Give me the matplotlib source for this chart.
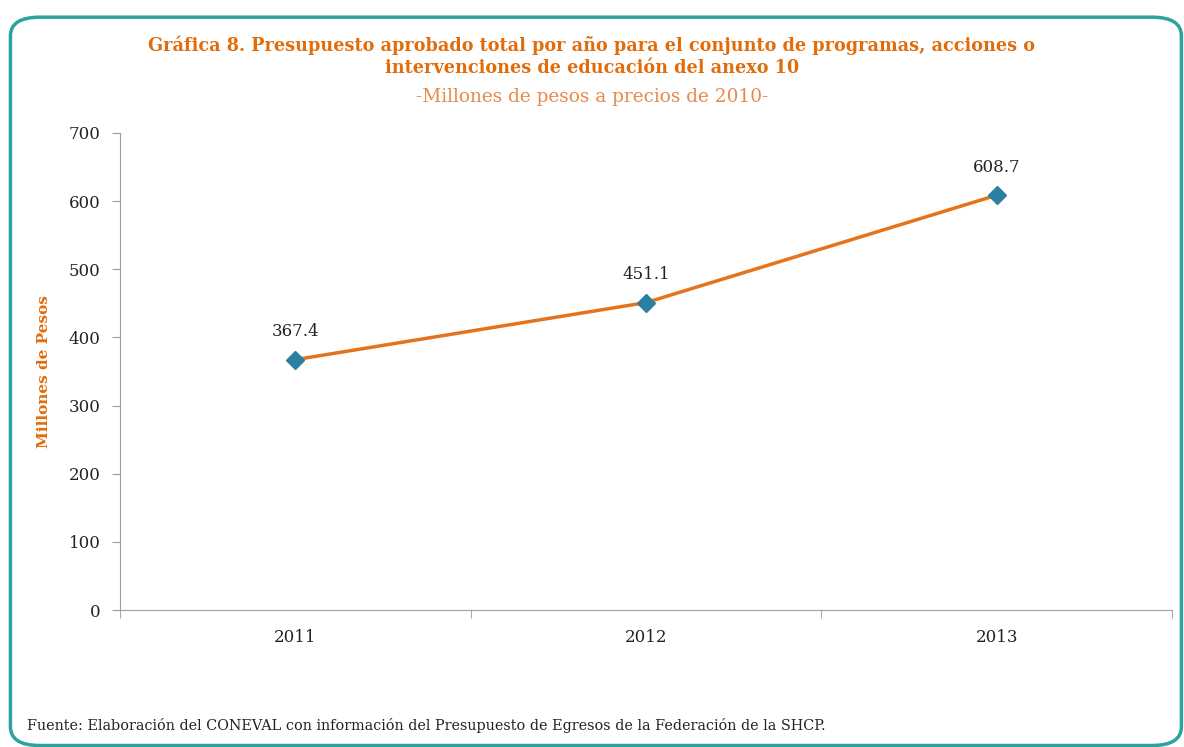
import numpy as np
import matplotlib.pyplot as plt
from matplotlib.patches import FancyBboxPatch

years = ['2011', '2012', '2013']
presupuesto = [367.4, 451.1, 608.7]

orange = '#E36C0A'
line_orange = '#E5731B'
teal = '#2B7FA0'

plt.rcParams['font.family'] = ['DejaVu Serif']

fig = plt.figure(figsize=(11.84, 7.47), dpi=100)

# marco redondeado (el lado derecho e inferior quedan al borde de la imagen)
frame = FancyBboxPatch((0.0088, 0.002), 0.989, 0.975,
                       boxstyle='round,pad=0,rounding_size=0.025',
                       transform=fig.transFigure, facecolor='none',
                       edgecolor='#2BA3A0', linewidth=2.5, zorder=-1)
fig.patches.append(frame)

ax = fig.add_axes([0.1014, 0.1834, 0.8885, 0.6386])
ax.set_facecolor('none')

x = np.arange(len(years))
ax.plot(x, presupuesto, color=line_orange, linewidth=2.5, zorder=2)
ax.plot(x, presupuesto, linestyle='none', marker='D', markersize=9,
        color=teal, zorder=3)
for xi, v in zip(x, presupuesto):
    ax.annotate(f'{v:.1f}', (xi, v), xytext=(0, 14), textcoords='offset points',
                ha='center', va='bottom', fontsize=12, color='#222222')

ax.set_xlim(-0.5, 2.5)
ax.set_ylim(0, 700)
ax.set_yticks(range(0, 701, 100))
ax.set_xticks(x)
ax.set_xticklabels(years)
ax.set_xticks([-0.5, 0.5, 1.5, 2.5], minor=True)
ax.tick_params(axis='x', which='major', length=0, pad=14, labelsize=12, labelcolor='#222222')
ax.tick_params(axis='x', which='minor', length=6, color='#999999')
ax.tick_params(axis='y', length=6, color='#999999', labelsize=12, labelcolor='#222222', pad=8)
for s in ['top', 'right']:
    ax.spines[s].set_visible(False)
for s in ['left', 'bottom']:
    ax.spines[s].set_color('#A0A0A0')

ax.set_ylabel('Millones de Pesos', color=orange, fontweight='bold', fontsize=11, labelpad=13)

fig.text(0.5, 0.939, 'Gráfica 8. Presupuesto aprobado total por año para el conjunto de programas, acciones o',
         ha='center', va='center', color=orange, fontweight='bold', fontsize=12.7)
fig.text(0.5, 0.909, 'intervenciones de educación del anexo 10',
         ha='center', va='center', color=orange, fontweight='bold', fontsize=12.7)
fig.text(0.5, 0.870, '-Millones de pesos a precios de 2010-', ha='center', va='center',
         color='#E8894A', fontsize=13.3)
fig.text(0.023, 0.029, 'Fuente: Elaboración del CONEVAL con información del Presupuesto de Egresos de la Federación de la SHCP.',
         ha='left', va='center', fontsize=10.4, color='#222222')

fig.savefig('out.png', dpi=100)
